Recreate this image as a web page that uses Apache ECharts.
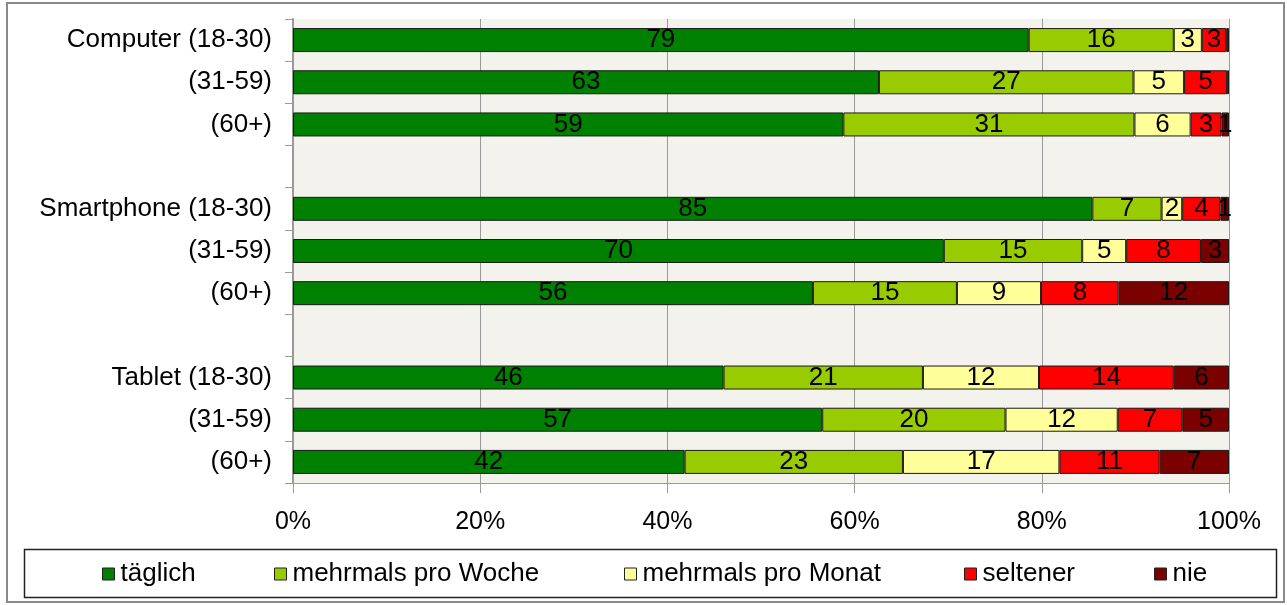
<!DOCTYPE html>
<html>
<head>
<meta charset="utf-8">
<script src="https://cdn.jsdelivr.net/npm/echarts@6/dist/echarts.min.js"></script>
<style>
  html, body { margin: 0; padding: 0; background: #fff; }
  #main { width: 1287px; height: 605px; }
</style>
</head>
<body>
<div id="main"></div>
<script>
// row labels, top to bottom ('' = spacer row)
const rowLabels = [
    'Computer (18-30)', '(31-59)', '(60+)', '',
    'Smartphone (18-30)', '(31-59)', '(60+)', '',
    'Tablet (18-30)', '(31-59)', '(60+)',
]
const seriesNames = ['täglich', 'mehrmals pro Woche', 'mehrmals pro Monat', 'seltener', 'nie']
const seriesColors = ['#008000', '#99cc00', '#ffff99', '#ff0000', '#7b0000']

// shares in percent
const taeglich = [78.6, 62.6, 58.8, null, 85.4, 69.6, 55.6, null, 46.0, 56.6, 41.8]
const proWoche = [15.5, 27.2, 31.1, null, 7.4, 14.8, 15.4, null, 21.3, 19.6, 23.3]
const proMonat = [3.0, 5.4, 6.0, null, 2.2, 4.7, 9.0, null, 12.4, 12.0, 16.7]
const seltener = [2.6, 4.6, 3.3, null, 4.1, 8.0, 8.3, null, 14.4, 6.9, 10.7]
const nie = [0.3, 0.2, 0.8, null, 0.9, 3.0, 11.8, null, 5.9, 5.0, 7.4]

const xTicks = [0, 20, 40, 60, 80, 100]

const FONT = "'Liberation Sans', Arial, sans-serif"
const allSeries = [taeglich, proWoche, proMonat, seltener, nie]

// row totals, so each bar fills 100%
const totals = rowLabels.map((_, i) =>
    allSeries.reduce((s, arr) => s + (arr[i] || 0), 0)
)

// legend icon x positions
const legendLeft = [102, 274, 624, 964, 1154]

const chart = echarts.init(document.getElementById('main'))

chart.setOption({
    animation: false,
    backgroundColor: '#fff',
    textStyle: { fontFamily: FONT },
    grid: {
        left: 293,
        right: 58,
        top: 19,
        bottom: 122,
        show: true,
        backgroundColor: '#f3f2ec',
        borderWidth: 0,
    },
    xAxis: {
        type: 'value',
        min: 0,
        max: 100,
        interval: 20,
        axisLine: { show: true, lineStyle: { color: '#9a9a9a', width: 1 } },
        axisTick: { show: true, length: 10, lineStyle: { color: '#9a9a9a' } },
        splitLine: { show: true, lineStyle: { color: '#9a9a9a', width: 1 } },
        axisLabel: {
            margin: 27,
            color: '#000',
            fontSize: 25,
            fontFamily: FONT,
            formatter: v => (xTicks.includes(v) ? v + '%' : ''),
        },
    },
    yAxis: {
        type: 'category',
        inverse: true,
        data: rowLabels.map((_, i) => 'r' + i),
        axisLine: { show: true, lineStyle: { color: '#9a9a9a', width: 2 } },
        axisTick: { show: true, length: 8, lineStyle: { color: '#9a9a9a' } },
        splitLine: { show: false },
        axisLabel: {
            margin: 21,
            color: '#000',
            fontSize: 26,
            fontFamily: FONT,
            formatter: (v, i) => rowLabels[i],
        },
    },
    legend: seriesNames.map((name, k) => ({
        data: [name],
        left: legendLeft[k],
        top: 561,
        padding: 0,
        icon: 'rect',
        itemWidth: 12,
        itemHeight: 12,
        itemGap: 5,
        selectedMode: false,
        textStyle: { fontSize: 26, color: '#000', fontFamily: FONT, padding: [0, 0, 0, 1] },
        itemStyle: { borderColor: '#222', borderWidth: 1 },
    })),
    series: allSeries.map((arr, k) => ({
        name: seriesNames[k],
        type: 'bar',
        stack: 'all',
        barWidth: 24,
        itemStyle: { color: seriesColors[k], borderColor: '#1a1a1a', borderWidth: 1 },
        label: {
            show: true,
            position: 'inside',
            color: '#000',
            fontSize: 26,
            fontFamily: FONT,
            formatter: p => {
                const raw = arr[p.dataIndex]
                return raw == null || raw < 0.5 ? '' : String(Math.round(raw))
            },
        },
        data: arr.map((v, i) => (v == null ? null : (v / totals[i]) * 100)),
    })),
    graphic: [
        {
            type: 'rect',
            silent: true,
            shape: { x: 7, y: 3, width: 1277, height: 599 },
            style: { fill: 'none', stroke: '#8a8a8a', lineWidth: 2 },
        },
        {
            type: 'rect',
            silent: true,
            shape: { x: 24.5, y: 549.5, width: 1252, height: 48 },
            style: { fill: 'none', stroke: '#222', lineWidth: 1.5 },
        },
    ],
})
</script>
</body>
</html>
